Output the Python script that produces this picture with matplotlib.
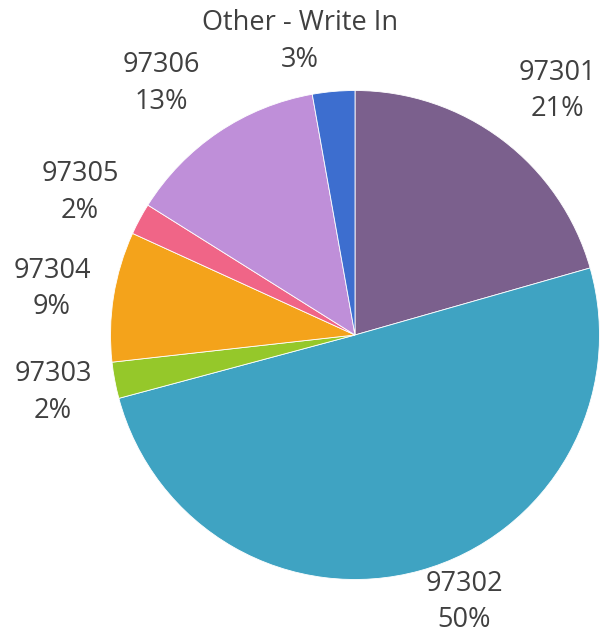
import matplotlib
matplotlib.use("Agg")
import matplotlib.pyplot as plt

categories = ["97301", "97302", "97303", "97304", "97305", "97306", "Other - Write In"]
shares = [20.6, 50.3, 2.4, 8.6, 2.1, 13.3, 2.8]
colors = ["#7B608D", "#3FA3C2", "#95C82A", "#F4A31B", "#F06587", "#BF8FD9", "#3D6ECF"]

# label centres (data units, pie radius = 1)
label_pos = [(0.826, 0.998), (0.446, -1.092), (-1.235, -0.235), (-1.239, 0.188),
             (-1.125, 0.583), (-0.791, 1.027), (-0.225, 1.202)]

plt.rcParams['font.family'] = ['Open Sans', 'DejaVu Sans']

fig = plt.figure(figsize=(6.0, 6.38), dpi=100)
ax = fig.add_axes([0, 0, 1, 1])
ax.pie(shares, colors=colors, startangle=90, counterclock=False, radius=1,
       wedgeprops=dict(edgecolor="white", linewidth=0.6))
total = sum(shares)
for cat, val, (x, y) in zip(categories, shares, label_pos):
    ax.text(x, y, f"{cat}\n{round(100 * val / total)}%", ha="center", va="center",
            fontsize=19.5, color="#404040", linespacing=1.42)

ax.set_xlim(-355 / 244.5, 245 / 244.5)
ax.set_ylim(-303 / 244.5, 335 / 244.5)
ax.set_aspect('auto')
ax.axis('off')
fig.savefig("out.png", dpi=100, facecolor="white")
